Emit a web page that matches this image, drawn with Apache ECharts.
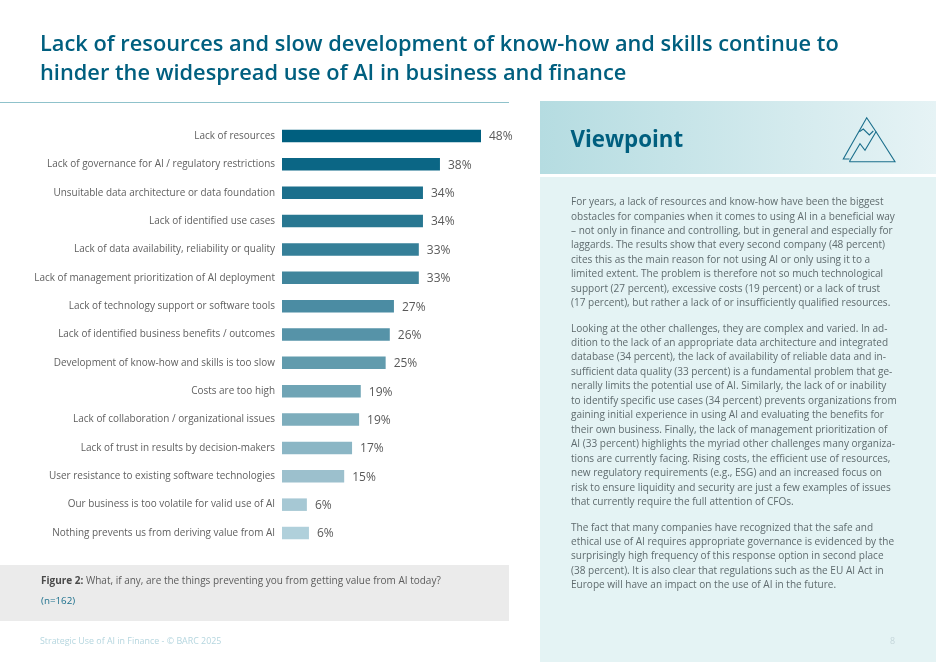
<!DOCTYPE html>
<html>
<head>
<meta charset="utf-8">
<style>html,body{margin:0;padding:0;background:#fff}#c{width:936px;height:662px}</style>
<script src="https://cdn.jsdelivr.net/npm/echarts@6/dist/echarts.min.js"></script>
</head>
<body>
<div id="c"></div>
<script>
const categories = ["Lack of resources","Lack of governance for AI / regulatory restrictions","Unsuitable data architecture or data foundation","Lack of identified use cases","Lack of data availability, reliability or quality","Lack of management prioritization of AI deployment","Lack of technology support or software tools","Lack of identified business benefits / outcomes","Development of know-how and skills is too slow","Costs are too high","Lack of collaboration / organizational issues","Lack of trust in results by decision-makers","User resistance to existing software technologies","Our business is too volatile for valid use of AI","Nothing prevents us from deriving value from AI"];
const values = [48,38.1,34,34,33,33,27,26,25,19,18.6,16.9,15,6,6.5];
const valueLabels = ["48%","38%","34%","34%","33%","33%","27%","26%","25%","19%","19%","17%","15%","6%","6%"];
const barColors = ["#005f7f","#0b6685","#1b6f8c","#287791","#357f98","#40859c","#4b8ca3","#5693a8","#619bad","#6fa4b5","#7dadbc","#8bb6c5","#9cc0cd","#a6c8d4","#b0d0db"];
const titleLines = ["Lack of resources and slow development of know-how and skills continue to","hinder the widespread use of AI in business and finance"];
const para1 = ["For years, a lack of resources and know-how have been the biggest","obstacles for companies when it comes to using AI in a beneficial way","– not only in finance and controlling, but in general and especially for","laggards. The results show that every second company (48 percent)","cites this as the main reason for not using AI or only using it to a","limited extent. The problem is therefore not so much technological","support (27 percent), excessive costs (19 percent) or a lack of trust","(17 percent), but rather a lack of or insufficiently qualified resources."];
const para2 = ["Looking at the other challenges, they are complex and varied. In ad-","dition to the lack of an appropriate data architecture and integrated","database (34 percent), the lack of availability of reliable data and in-","sufficient data quality (33 percent) is a fundamental problem that ge-","nerally limits the potential use of AI. Similarly, the lack of or inability","to identify specific use cases (34 percent) prevents organizations from","gaining initial experience in using AI and evaluating the benefits for","their own business. Finally, the lack of management prioritization of","AI (33 percent) highlights the myriad other challenges many organiza-","tions are currently facing. Rising costs, the efficient use of resources,","new regulatory requirements (e.g., ESG) and an increased focus on","risk to ensure liquidity and security are just a few examples of issues","that currently require the full attention of CFOs."];
const para3 = ["The fact that many companies have recognized that the safe and","ethical use of AI requires appropriate governance is evidenced by the","surprisingly high frequency of this response option in second place","(38 percent). It is also clear that regulations such as the EU AI Act in","Europe will have an impact on the use of AI in the future."];

const FONT = '"Open Sans", "Noto Sans", sans-serif';
const DARK = '#005f7f';
function txt(x, y, text, size, fill, extra) {
  return {type:'text', x, y, silent:true, z:5, style:Object.assign({
    text, font:`${size}px ${FONT}`, fontSize:size, fontFamily:FONT, fill, textVerticalAlign:'top', verticalAlign:'top'
  }, extra||{})};
}
function para(x, y, lines) {
  return txt(x, y, lines.join('\n'), 10.05, '#5f6b6e', {lineHeight:14.45});
}
function iconLine(points) {
  return {type:'polyline', silent:true, z:5, shape:{points}, style:{stroke:'#1b6f8c', lineWidth:1.1, fill:null, lineJoin:'miter'}};
}
const chart = echarts.init(document.getElementById('c'), null, {renderer:'canvas', width:936, height:662});
chart.setOption({
  animation:false,
  backgroundColor:'#ffffff',
  textStyle:{fontFamily:FONT},
  grid:{left:282, right:455, top:121.8, height:425.4, containLabel:false},
  xAxis:{type:'value', min:0, max:48, show:false},
  yAxis:{type:'category', inverse:true, data:categories,
    axisLine:{show:false}, axisTick:{show:false}, splitLine:{show:false},
    axisLabel:{color:'#5f5f5f', fontFamily:FONT, fontSize:9.95, margin:7, interval:0}},
  series:[{
    type:'bar', barWidth:12.5, silent:true,
    data:values.map((v,i)=>({value:v, itemStyle:{color:barColors[i]}})),
    label:{show:true, position:'right', distance:8, color:'#595959', fontFamily:FONT, fontSize:12, offset:[0,1],
      formatter:p=>valueLabels[p.dataIndex]}
  }],
  graphic:{elements:[
    {type:'rect', silent:true, z:1, shape:{x:0,y:102,width:509,height:1}, style:{fill:'#8fc2cb'}},
    {type:'rect', silent:true, z:1, shape:{x:0,y:565,width:509,height:56}, style:{fill:'#ebebeb'}},
    {type:'rect', silent:true, z:1, shape:{x:540,y:101,width:396,height:73}, style:{fill:new echarts.graphic.LinearGradient(0,0,1,0,[{offset:0,color:'#b5dce1'},{offset:1,color:'#e6f3f5'}])}},
    {type:'rect', silent:true, z:1, shape:{x:540,y:177,width:396,height:485}, style:{fill:'#e4f3f4'}},
    txt(40, 30.5, titleLines.join('\n'), 21.8, DARK, {font:`600 21.8px ${FONT}`, fontWeight:600, lineHeight:29}),
    txt(570.5, 129.5, 'Viewpoint', 22.3, DARK, {font:`700 22.3px ${FONT}`, fontWeight:700}),
    para(571, 195, para1),
    para(571, 321.5, para2),
    para(571, 520.5, para3),
    txt(41, 576, 'Figure 2:', 10, '#4a4a4a', {font:`700 10px ${FONT}`, fontWeight:700}),
    txt(86, 576, 'What, if any, are the things preventing you from getting value from AI today?', 10, '#5c5c5c'),
    txt(41, 596, '(n=162)', 9.8, '#1b6f8c'),
    txt(40, 636.5, 'Strategic Use of AI in Finance - © BARC 2025', 8.9, '#b5d6df'),
    txt(890, 636.5, '8', 8.9, '#c5d6da'),
    iconLine([[849.3,161.7],[895,161.7],[876,131.7],[865,150.3],[860,143.7],[849.3,161.7]]),
    iconLine([[849.5,159],[843.3,159],[866.7,117.7],[876,131.7]]),
    iconLine([[859.3,131.7],[863.3,129],[869.3,135],[873.3,131]])
  ]}
});
</script>
</body>
</html>
